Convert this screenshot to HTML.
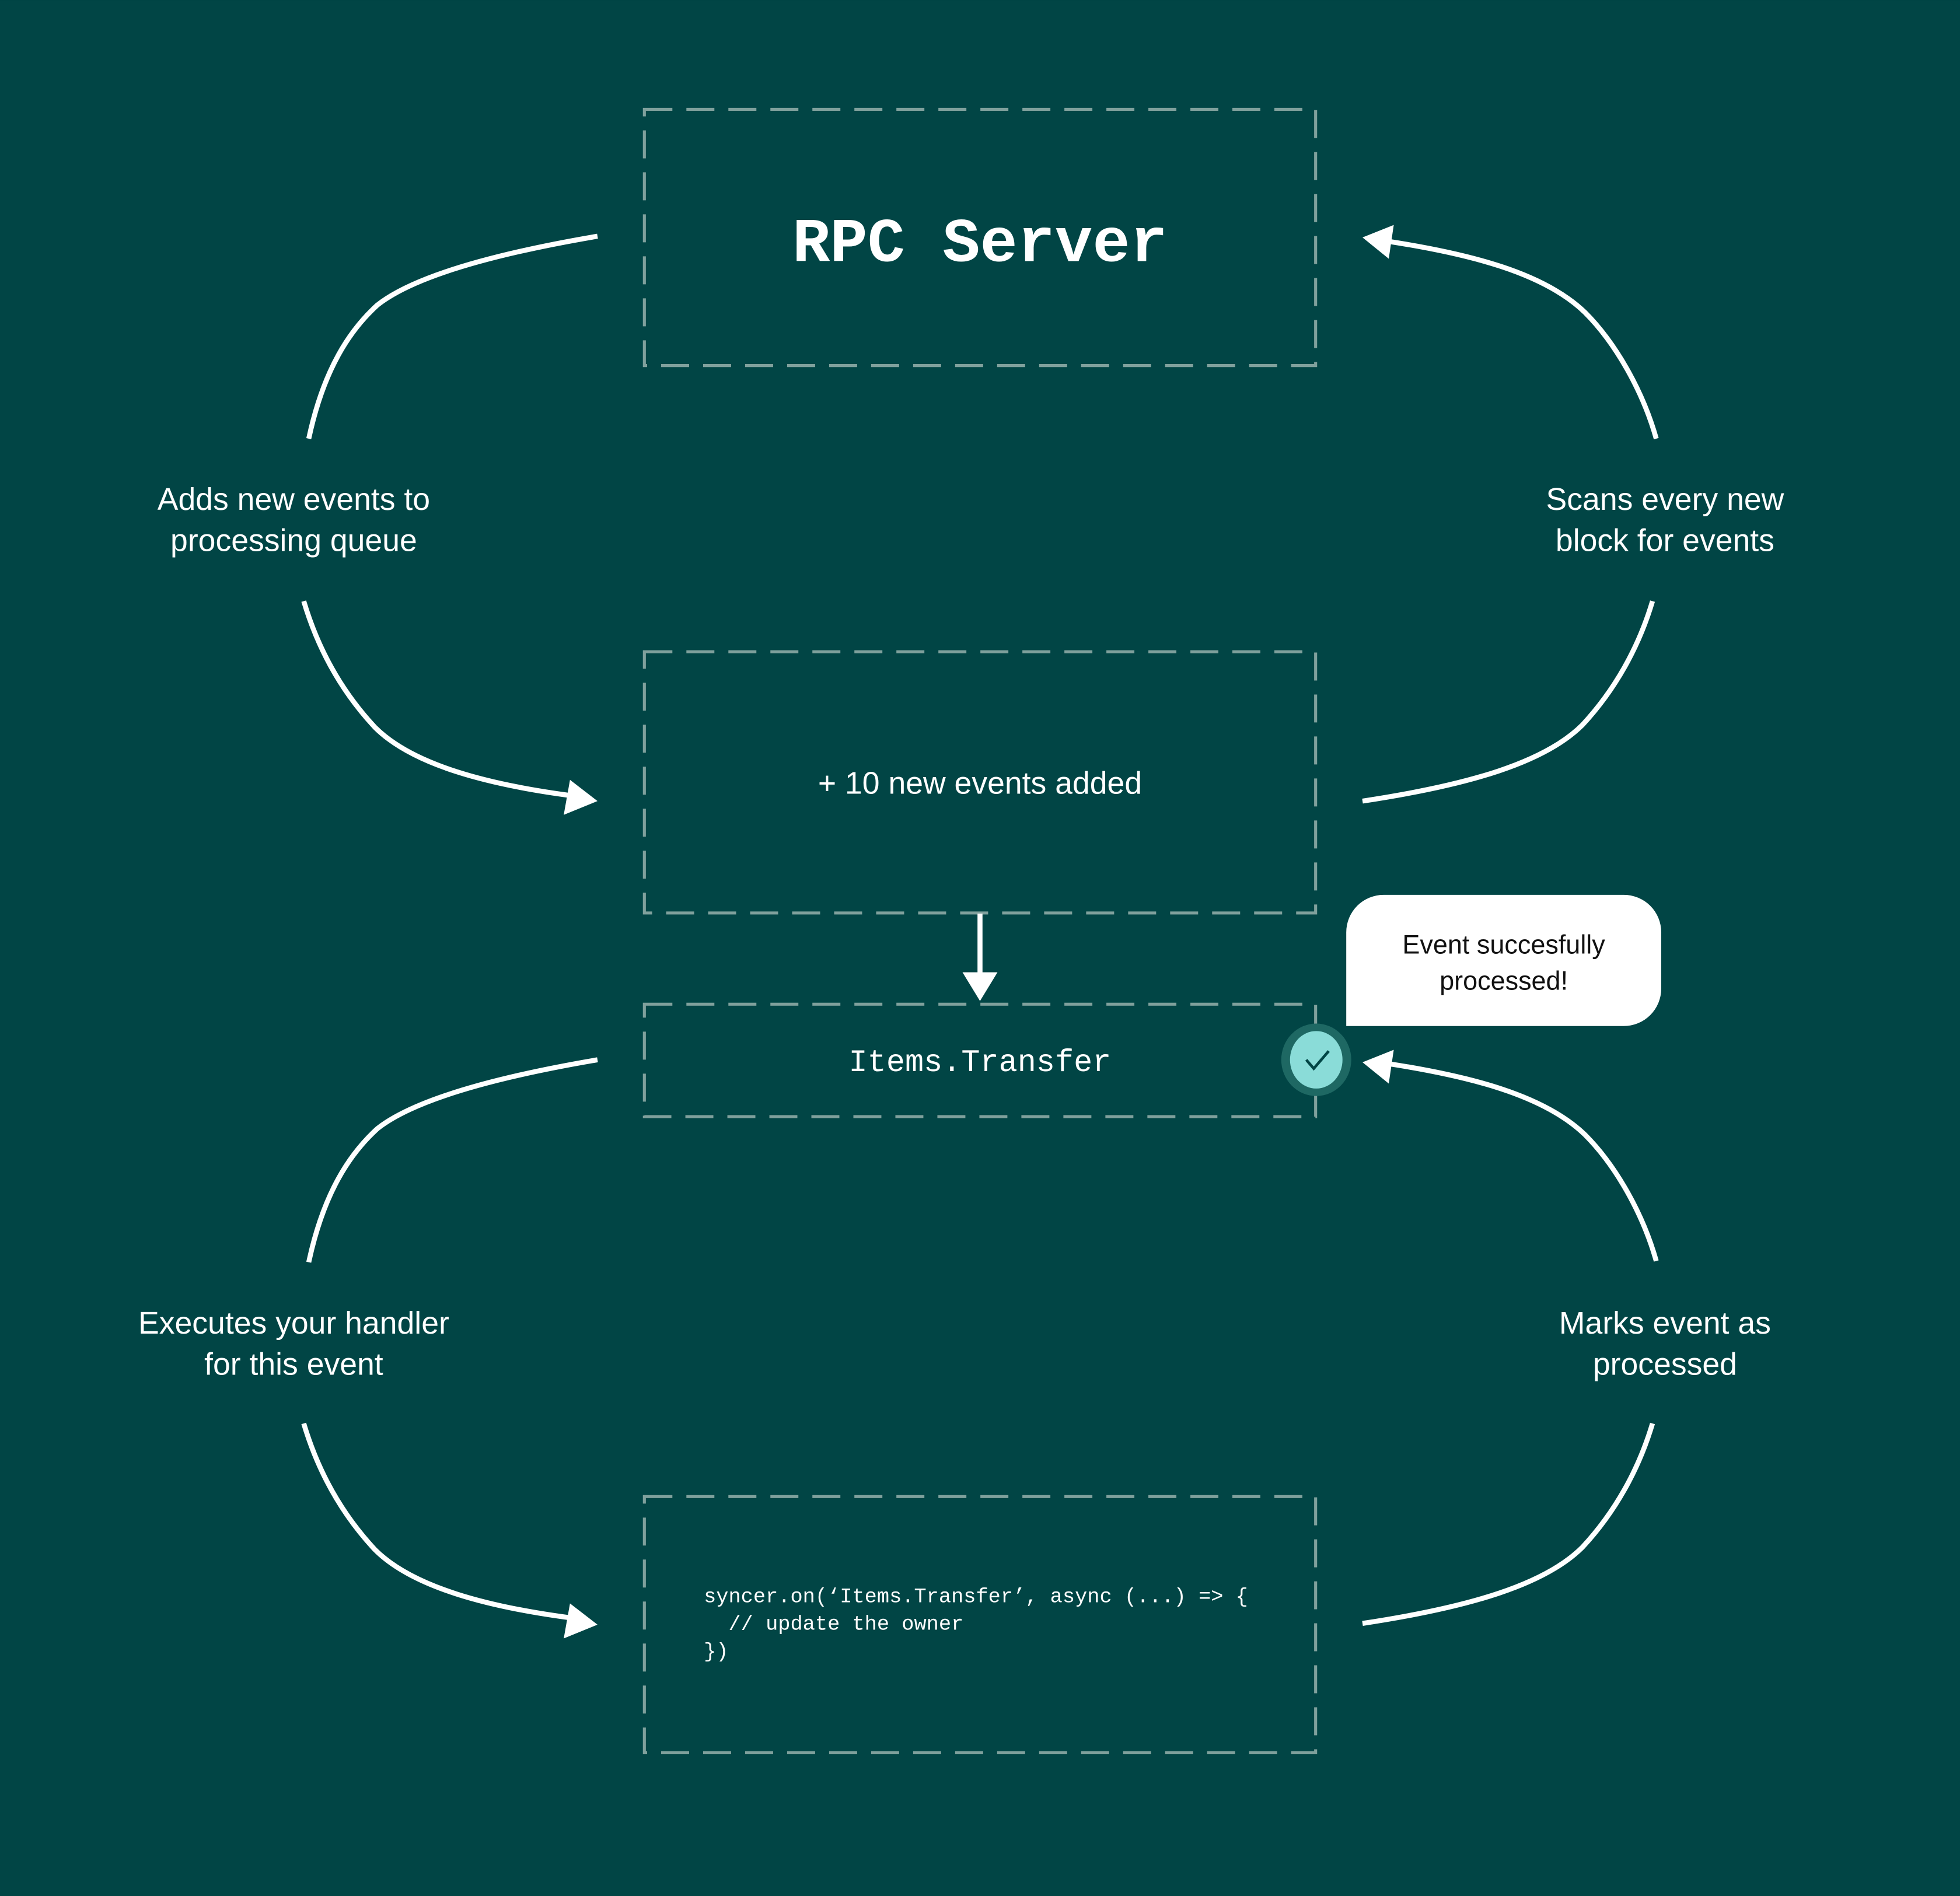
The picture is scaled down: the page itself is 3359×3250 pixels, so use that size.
<!DOCTYPE html>
<html><head><meta charset="utf-8"><style>
html,body{margin:0;padding:0;background:#014545;}
svg{display:block;}
</style></head><body>
<svg width="3359" height="3250" viewBox="0 0 1568 1517.1" xmlns="http://www.w3.org/2000/svg">
<rect x="0" y="0" width="1568" height="1518" fill="#014545"/>
<g fill="none" stroke="#7fa09c" stroke-width="2.4" stroke-dasharray="22.4 11.2">
<rect x="515.5" y="87.5" width="537" height="205"/>
<rect x="515.5" y="521.5" width="537" height="209"/>
<rect x="515.5" y="803.5" width="537" height="90"/>
<rect x="515.5" y="1197.5" width="537" height="205"/>
</g>
<g fill="none" stroke="#fff" stroke-width="4">
<path d="M478,189 C390,204 330,222 302,244 C280,264 259,295 247,351"/>
<path d="M243,481 C254,518 272,552 300,582 C330,612 390,628 460,637"/>
<path d="M1325,351 C1314,312 1292,274 1268,250 C1235,218 1175,203 1110,193"/>
<path d="M1322,481 C1311,518 1292,552 1266,580 C1236,610 1176,628 1090,641"/>
<path d="M478,848 C390,863 330,881 302,903 C280,923 259,954 247,1010"/>
<path d="M243,1139 C254,1176 272,1210 300,1240 C330,1270 390,1286 460,1295"/>
<path d="M1325,1009 C1314,970 1292,932 1268,908 C1235,876 1175,861 1110,851"/>
<path d="M1322,1139 C1311,1176 1292,1210 1266,1238 C1236,1268 1176,1286 1090,1299"/>
<path d="M784,731 L784,782"/>
</g>
<g fill="#fff">
<polygon points="478,641 456,624 451,652"/>
<polygon points="478,1300 456,1283 451,1311"/>
<polygon points="1090,190 1115,180 1111,207"/>
<polygon points="1090,850 1115,840 1111,867"/>
<polygon points="784,801 770,778 798,778"/>
</g>
<path d="M1107,716 H1299 A30,30 0 0 1 1329,746 V791 A30,30 0 0 1 1299,821 H1077 V746 A30,30 0 0 1 1107,716 Z" fill="#fff"/>
<ellipse cx="1053" cy="848" rx="28" ry="29" fill="#1e6863"/>
<ellipse cx="1053" cy="848" rx="21" ry="23" fill="#8adcd8"/>
<path d="M1045,848 L1051,855 L1063,841" fill="none" stroke="#014545" stroke-width="2.2"/>
<g font-family="Liberation Sans, sans-serif" fill="#fff" font-size="25" text-anchor="middle">
<text x="235" y="408">Adds new events to</text>
<text x="235" y="441">processing queue</text>
<text x="1332" y="408">Scans every new</text>
<text x="1332" y="441">block for events</text>
<text x="235" y="1067">Executes your handler</text>
<text x="235" y="1100">for this event</text>
<text x="1332" y="1067">Marks event as</text>
<text x="1332" y="1100">processed</text>
<text x="784" y="635">+ 10 new events added</text>
<text x="1203" y="763" font-size="21" fill="#111">Event succesfully</text>
<text x="1203" y="792" font-size="21" fill="#111">processed!</text>
</g>
<text x="784" y="209" font-family="Liberation Mono, monospace" font-weight="bold" font-size="50" fill="#fff" text-anchor="middle">RPC Server</text>
<text x="784" y="857" font-family="Liberation Mono, monospace" font-size="25" fill="#fff" text-anchor="middle">Items.Transfer</text>
<g font-family="Liberation Mono, monospace" font-size="16.5" fill="#fff">
<text x="563" y="1282">syncer.on(‘Items.Transfer’, async (...) =&gt; {</text>
<text x="563" y="1304">&#160;&#160;// update the owner</text>
<text x="563" y="1326">})</text>
</g>
</svg>
</body></html>
